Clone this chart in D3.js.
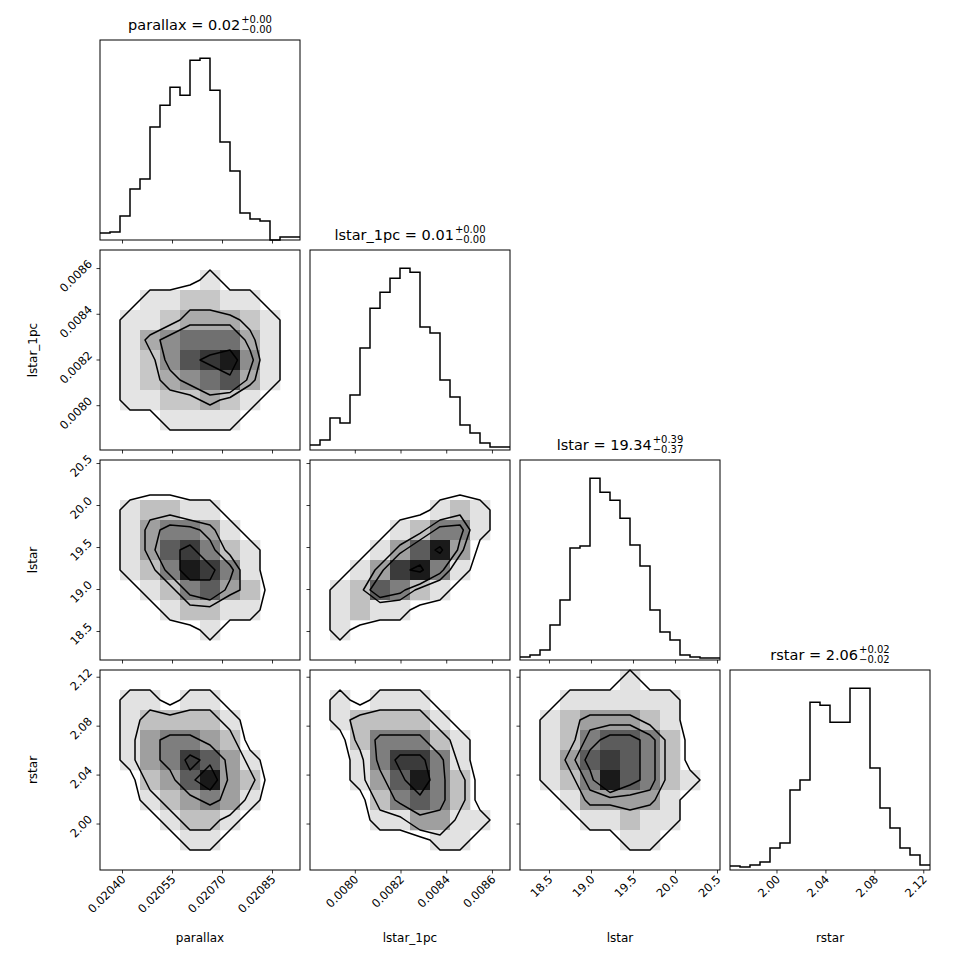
<!DOCTYPE html>
<html>
<head>
<meta charset="utf-8">
<script src="https://cdn.jsdelivr.net/npm/d3@7"></script>
<style>
  body { margin: 0; background: #fff; }
  text { font-family: "DejaVu Sans", sans-serif; }
</style>
</head>
<body>
<svg id="chart" width="970" height="970"></svg>
<script>
// parameter names and axis ranges
const names = ['parallax', 'lstar_1pc', 'lstar', 'rstar'];
const ranges = [[0.020334, 0.020934], [0.007804, 0.008679], [18.155, 20.536], [1.962, 2.1255]];
const tickVals = [
    [0.02040, 0.02055, 0.02070, 0.02085],
    [0.0080, 0.0082, 0.0084, 0.0086],
    [18.5, 19.0, 19.5, 20.0, 20.5],
    [2.00, 2.04, 2.08, 2.12]
];
const tickFmt = [d3.format('.5f'), d3.format('.4f'), d3.format('.1f'), d3.format('.2f')];

// titles: value, plus, minus
const titleVals = ['0.02', '0.01', '19.34', '2.06'];
const titlePlus = ['0.00', '0.00', '0.39', '0.02'];
const titleMinus = ['0.00', '0.00', '0.37', '0.02'];

// 1D histograms (20 bins each, counts)
const histParallax = [7, 8, 24, 51, 61, 113, 135, 153, 145, 180, 182, 150, 98, 69, 27, 21, 19, 0, 3, 3];
const histLstar1pc = [5, 10, 32, 27, 55, 102, 142, 158, 172, 182, 178, 123, 117, 70, 53, 25, 17, 7, 3, 3];
const histLstar = [3, 5, 10, 35, 60, 112, 114, 182, 168, 160, 142, 115, 94, 50, 28, 20, 5, 3, 2, 2];
const histRstar = [4, 3, 5, 8, 22, 27, 80, 90, 168, 165, 148, 148, 182, 182, 102, 62, 42, 22, 15, 5];
const hists = [histParallax, histLstar1pc, histLstar, histRstar];

// 2D densities, 10x10, rows from top (high y) to bottom
const gridLstar1pcParallax = [
    [0,0,0,0,0,0,0,0,0,0],
    [0,0,0,0,0,1,0,0,0,0],
    [0,0,1,1,2,2,1,1,0,0],
    [0,1,1,2,3,3,3,2,1,0],
    [0,1,3,4,5,5,5,3,1,0],
    [0,1,2,4,6,7,8,4,1,0],
    [0,1,2,3,4,5,6,3,1,0],
    [0,1,1,2,2,3,2,1,0,0],
    [0,0,0,1,1,1,1,0,0,0],
    [0,0,0,0,0,0,0,0,0,0]
];
const gridLstarParallax = [
    [0,0,0,0,0,0,0,0,0,0],
    [0,0,0,0,0,0,0,0,0,0],
    [0,1,2,2,1,1,0,0,0,0],
    [0,1,3,4,4,3,1,0,0,0],
    [0,1,3,5,6,4,2,1,0,0],
    [0,1,2,4,7,6,4,1,0,0],
    [0,0,1,2,4,5,3,2,0,0],
    [0,0,0,1,2,2,1,1,0,0],
    [0,0,0,0,0,1,0,0,0,0],
    [0,0,0,0,0,0,0,0,0,0]
];
const gridLstarLstar1pc = [
    [0,0,0,0,0,0,0,0,0,0],
    [0,0,0,0,0,0,0,0,0,0],
    [0,0,0,0,0,0,1,2,1,0],
    [0,0,0,0,1,2,4,4,1,0],
    [0,0,0,1,3,5,7,3,0,0],
    [0,0,1,3,6,7,4,1,0,0],
    [0,1,2,5,4,2,1,0,0,0],
    [0,1,2,1,1,0,0,0,0,0],
    [0,1,0,0,0,0,0,0,0,0],
    [0,0,0,0,0,0,0,0,0,0]
];
const gridRstarParallax = [
    [0,0,0,0,0,0,0,0,0,0],
    [0,1,1,0,1,1,0,0,0,0],
    [0,1,2,2,2,2,1,0,0,0],
    [0,1,3,4,4,3,2,0,0,0],
    [0,1,3,4,6,5,3,1,0,0],
    [0,0,2,3,5,7,3,2,0,0],
    [0,0,1,2,3,4,3,1,0,0],
    [0,0,0,1,2,2,1,0,0,0],
    [0,0,0,0,1,1,0,0,0,0],
    [0,0,0,0,0,0,0,0,0,0]
];
const gridRstarLstar1pc = [
    [0,0,0,0,0,0,0,0,0,0],
    [0,1,0,1,1,1,0,0,0,0],
    [0,1,2,2,2,2,1,0,0,0],
    [0,0,2,4,4,4,2,1,0,0],
    [0,0,1,4,6,6,4,1,0,0],
    [0,0,1,3,5,7,4,2,0,0],
    [0,0,0,2,4,5,4,2,0,0],
    [0,0,0,1,1,3,3,1,1,0],
    [0,0,0,0,0,0,1,1,0,0],
    [0,0,0,0,0,0,0,0,0,0]
];
const gridRstarLstar = [
    [0,0,0,0,0,1,0,0,0,0],
    [0,0,1,1,1,1,1,1,0,0],
    [0,1,2,3,3,3,2,1,0,0],
    [0,1,2,4,5,5,4,2,0,0],
    [0,1,3,5,6,5,4,2,0,0],
    [0,1,2,4,7,5,4,2,1,0],
    [0,0,1,3,3,3,3,1,0,0],
    [0,0,0,1,1,2,1,1,0,0],
    [0,0,0,0,0,1,1,0,0,0],
    [0,0,0,0,0,0,0,0,0,0]
];
const grids = {
    '1,0': gridLstar1pcParallax,
    '2,0': gridLstarParallax,
    '2,1': gridLstarLstar1pc,
    '3,0': gridRstarParallax,
    '3,1': gridRstarLstar1pc,
    '3,2': gridRstarLstar
};
const levels = [0.5, 1, 1.5, 2].map(s => 1 - Math.exp(-0.5 * s * s));

const svg = d3.select('#chart');
const size = 200, gap = 10, leftM = 100, topM = 40, n = 4;

function xScale(c) {
    return d3.scaleLinear().domain(ranges[c]).range([0, size]);
}
function yScale(r) {
    return d3.scaleLinear().domain(ranges[r]).range([size, 0]);
}

function drawTicks(g, c, r, isHist) {
    const x = xScale(c);
    const xa = d3.axisBottom(x).tickValues(tickVals[c]).tickSizeOuter(0).tickSize(3.5);
    const gx = g.append('g').attr('transform', `translate(0,${size})`).call(xa)
        .attr('font-family', null).attr('font-size', null);
    gx.select('.domain').remove();
    if (r === n - 1) {
        gx.selectAll('text').text(tickFmt[c])
            .attr('font-size', 11.5).attr('fill', '#000')
            .attr('text-anchor', 'end')
            .attr('y', 0).attr('dy', 0)
            .attr('transform', 'translate(4,10) rotate(-45)');
    } else {
        gx.selectAll('text').remove();
    }
    if (!isHist) {
        const y = yScale(r);
        const ya = d3.axisLeft(y).tickValues(tickVals[r]).tickSizeOuter(0).tickSize(3.5);
        const gy = g.append('g').call(ya).attr('font-family', null).attr('font-size', null);
        gy.select('.domain').remove();
        if (c === 0) {
            gy.selectAll('text').text(tickFmt[r])
                .attr('font-size', 11.5).attr('fill', '#000')
                .attr('text-anchor', 'end')
                .attr('x', 0).attr('dy', 0)
                .attr('transform', 'translate(-7,-4) rotate(-45)');
        } else {
            gy.selectAll('text').remove();
        }
    }
    g.selectAll('.tick line').attr('stroke', '#000').attr('stroke-width', 0.8);
}

function drawHist(g, i) {
    const vals = hists[i];
    const x = d3.scaleLinear().domain([0, vals.length]).range([0, size]);
    const y = d3.scaleLinear().domain([0, 1.1 * d3.max(vals)]).range([size, 0]);
    const pts = [];
    vals.forEach((v, k) => { pts.push([k, v]); pts.push([k + 1, v]); });
    g.append('path')
        .attr('d', d3.line().x(d => x(d[0])).y(d => y(d[1]))(pts))
        .attr('fill', 'none').attr('stroke', '#000').attr('stroke-width', 1.5);
}

function drawDensity(g, grid) {
    const rows = grid.length, cols = grid[0].length;
    const flat = grid.flat();
    const total = d3.sum(flat);
    const sorted = flat.slice().sort((a, b) => b - a);
    let cum = 0;
    const cumFrac = sorted.map(v => (cum += v) / total);
    const thr = levels.map(l => {
        const k = cumFrac.findIndex(f => f >= l);
        return sorted[Math.max(k, 0)] - 0.5;
    }).sort((a, b) => a - b);
    const vmax = d3.max(flat);
    const cx = d3.scaleLinear().domain([0, cols]).range([0, size]);
    const cy = d3.scaleLinear().domain([0, rows]).range([0, size]);
    const shade = d3.scaleLinear().domain([thr[0], vmax]).range([0.95, 0.1]).clamp(true);
    grid.forEach((row, ri) => row.forEach((v, ci) => {
        if (v <= 0) return;
        const level = v < thr[0] ? 0.985 : shade(v);
        const gv = Math.round(255 * level);
        g.append('rect')
            .attr('x', cx(ci)).attr('y', cy(ri))
            .attr('width', cx(1) - cx(0) + 0.3).attr('height', cy(1) - cy(0) + 0.3)
            .attr('fill', d3.rgb(gv, gv, gv));
    }));
    // contour on cell centres (padded so the outer ring closes)
    const pad = [];
    const pr = rows + 2, pc = cols + 2;
    for (let r = 0; r < pr; r++) for (let c = 0; c < pc; c++) {
        pad.push(r === 0 || c === 0 || r === pr - 1 || c === pc - 1 ? 0 : grid[r - 1][c - 1]);
    }
    const cs = d3.contours().size([pc, pr]).thresholds(thr)(pad);
    const px = d3.scaleLinear().domain([1.5, cols + 0.5]).range([cx(0.5), cx(cols - 0.5)]);
    const py = d3.scaleLinear().domain([1.5, rows + 0.5]).range([cy(0.5), cy(rows - 0.5)]);
    const path = d3.geoPath(d3.geoTransform({
        point: function (xx, yy) { this.stream.point(px(xx), py(yy)); }
    }));
    g.selectAll('path.ct').data(cs).join('path')
        .attr('class', 'ct')
        .attr('d', path)
        .attr('fill', 'none').attr('stroke', '#000').attr('stroke-width', 1.5)
        .attr('stroke-linejoin', 'round');
}

function drawTitle(i, cx, y) {
    const t = svg.append('g');
    const main = t.append('text').attr('font-size', 14.5).attr('y', y)
        .text(`${names[i]} = ${titleVals[i]}`);
    const w = main.node().getComputedTextLength();
    const sup = t.append('text').attr('font-size', 10).attr('x', w + 1).attr('y', y - 7).text('+' + titlePlus[i]);
    const sub = t.append('text').attr('font-size', 10).attr('x', w + 1).attr('y', y + 3).text('\u2212' + titleMinus[i]);
    const sw = Math.max(sup.node().getComputedTextLength(), sub.node().getComputedTextLength());
    t.attr('transform', `translate(${cx - (w + 1 + sw) / 2},0)`);
}

for (let r = 0; r < n; r++) {
    for (let c = 0; c <= r; c++) {
        const g = svg.append('g')
            .attr('transform', `translate(${leftM + c * (size + gap)},${topM + r * (size + gap)})`);
        if (r === c) {
            drawHist(g, r);
            drawTitle(r, leftM + c * (size + gap) + size / 2, topM + r * (size + gap) - 10);
        } else {
            drawDensity(g, grids[`${r},${c}`]);
        }
        g.append('rect').attr('width', size).attr('height', size)
            .attr('fill', 'none').attr('stroke', '#000').attr('stroke-width', 1);
        drawTicks(g, c, r, r === c);
    }
}

// axis labels
names.forEach((nm, i) => {
    svg.append('text').attr('font-size', 12).attr('text-anchor', 'middle')
        .attr('x', leftM + i * (size + gap) + size / 2).attr('y', 942).text(nm);
    if (i > 0) {
        svg.append('text').attr('font-size', 12).attr('text-anchor', 'middle')
            .attr('transform', `translate(37,${topM + i * (size + gap) + size / 2}) rotate(-90)`)
            .text(nm);
    }
});
</script>
</body>
</html>
